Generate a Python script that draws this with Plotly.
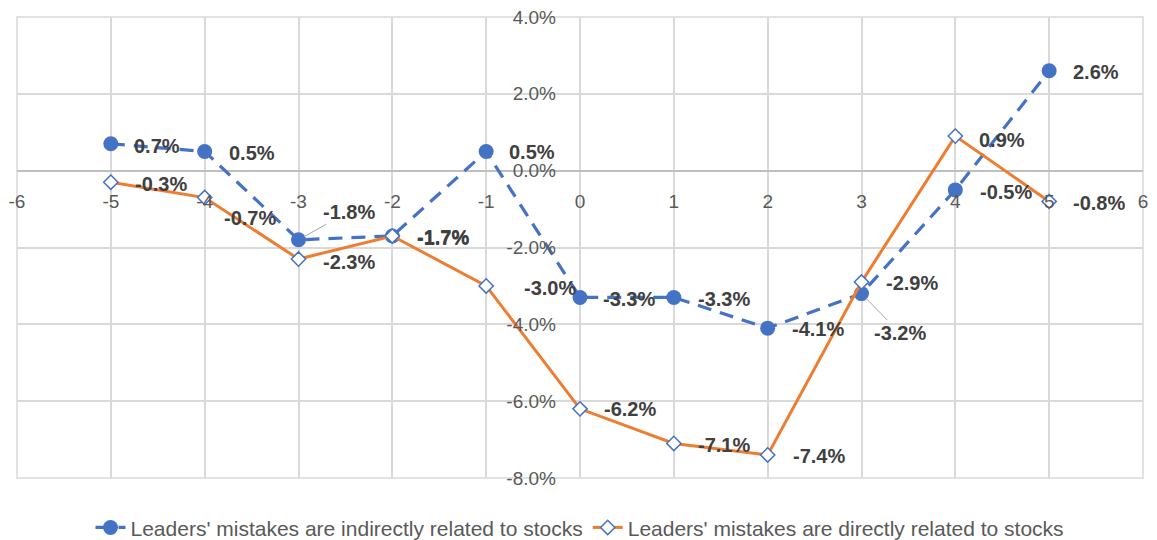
import plotly.graph_objects as go

# Event window (days) and average returns (%)
days = [-5, -4, -3, -2, -1, 0, 1, 2, 3, 4, 5]
indirect = [0.7, 0.5, -1.8, -1.7, 0.5, -3.3, -3.3, -4.1, -3.2, -0.5, 2.6]
direct = [-0.3, -0.7, -2.3, -1.7, -3.0, -6.2, -7.1, -7.4, -2.9, 0.9, -0.8]

x_ticks = [-6, -5, -4, -3, -2, -1, 0, 1, 2, 3, 4, 5, 6]
y_ticks = [-8, -6, -4, -2, 0, 2, 4]

name_indirect = "Leaders' mistakes are indirectly related to stocks"
name_direct = "Leaders' mistakes are directly related to stocks"

# Label offsets in pixels (dx, dy), data labels sit right of the markers
offs_indirect = [(46, 2), (47, 2), (50, -28), (51, 1), (46, 1), (49, 2),
                 (50, 2), (50, 1), (38, 39), (51, 2), (47, 1)]
offs_direct = [(50, 2), (45, 20), (50, 3), (51, 2), (64, 2), (50, 0),
               (50, 2), (51, 1), (50, 1), (47, 4), (50, 2)]
leader_indirect = [False, False, True, False, False, False,
                   False, False, True, False, False]

BLUE = '#4472C4'
ORANGE = '#ED7D31'
GRID = '#d9d9d9'
FONT = 'Liberation Sans, Arial, sans-serif'

fig = go.Figure()

fig.add_trace(go.Scatter(
    x=days,
    y=indirect,
    name=name_indirect,
    mode='lines+markers',
    line=dict(color=BLUE, width=3.2, dash='14px,9px'),
    marker=dict(symbol='circle', size=15, color=BLUE),
))

fig.add_trace(go.Scatter(
    x=days,
    y=direct,
    name=name_direct,
    mode='lines+markers',
    line=dict(color=ORANGE, width=3),
    marker=dict(
        symbol='diamond',
        size=11,
        color='white',
        line=dict(color=BLUE, width=1.5),
    ),
))

# Data labels
annotations = []
for series, offs, leaders in (
    (indirect, offs_indirect, leader_indirect),
    (direct, offs_direct, [False] * len(direct)),
):
    for xv, yv, (dx, dy), lead in zip(days, series, offs, leaders):
        label = dict(
            x=xv,
            y=yv,
            xref='x',
            yref='y',
            text=f'{yv:.1f}%',
            font=dict(family=FONT, size=20, color='#404040', weight='bold'),
        )
        if lead:
            label.update(
                showarrow=True,
                arrowhead=0,
                arrowwidth=1,
                arrowcolor='#a6a6a6',
                ax=dx,
                ay=dy,
                standoff=6,
            )
        else:
            label.update(showarrow=False, xshift=dx, yshift=-dy)
        annotations.append(label)

# Plot area border (Excel draws gridlines at the range ends)
border = dict(
    type='rect',
    xref='paper',
    yref='paper',
    x0=0,
    y0=0,
    x1=1,
    y1=1,
    line=dict(color=GRID, width=1.5),
    layer='below',
)

# The page body adds an 8px offset, so the figure is sized to fit the window
fig.update_layout(
    width=1149,
    height=532,
    paper_bgcolor='white',
    plot_bgcolor='white',
    margin=dict(l=9, r=14, t=9, b=62, autoexpand=False),
    font=dict(family=FONT, color='#595959'),
    showlegend=True,
    legend=dict(
        orientation='h',
        x=0.5,
        xanchor='center',
        y=-0.108,
        yanchor='middle',
        font=dict(size=21, color='#595959'),
    ),
    annotations=annotations,
    shapes=[border],
    xaxis=dict(
        range=[-6, 6],
        tickvals=x_ticks,
        ticktext=[f'{v:d}' for v in x_ticks],
        showgrid=True,
        gridcolor=GRID,
        gridwidth=1.5,
        zeroline=True,
        zerolinecolor=GRID,
        zerolinewidth=1.5,
        showline=False,
        anchor='free',
        position=8 / 12,
        side='bottom',
        ticks='',
        ticklabelstandoff=17,
        ticklabeloverflow='allow',
        tickfont=dict(size=19, color='#595959'),
        automargin=False,
        fixedrange=True,
    ),
    yaxis=dict(
        range=[-8, 4],
        tickvals=y_ticks,
        ticktext=[f'{v:.1f}%' for v in y_ticks],
        showgrid=True,
        gridcolor=GRID,
        gridwidth=1.5,
        zeroline=True,
        zerolinecolor='#bfbfbf',
        zerolinewidth=1.5,
        showline=False,
        anchor='free',
        position=0.5,
        side='left',
        ticks='',
        ticklabelstandoff=24,
        ticklabeloverflow='allow',
        tickfont=dict(size=19, color='#595959'),
        automargin=False,
        fixedrange=True,
    ),
)

fig.write_html('out.html')
